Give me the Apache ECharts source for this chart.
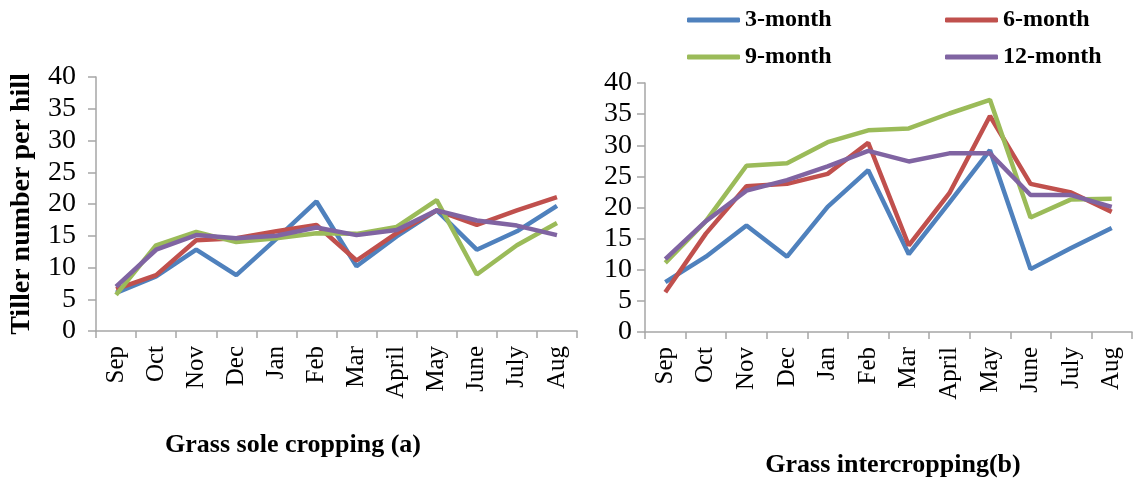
<!DOCTYPE html>
<html>
<head>
<meta charset="utf-8">
<script src="https://cdn.jsdelivr.net/npm/echarts@6/dist/echarts.min.js"></script>
<style>
  html, body { margin: 0; padding: 0; background: #fff; }
  #chart { width: 1136px; height: 482px; }
</style>
</head>
<body>
<div id="chart"></div>
<script>
var months = ['Sep', 'Oct', 'Nov', 'Dec', 'Jan', 'Feb', 'Mar', 'April', 'May', 'June', 'July', 'Aug']
var yTicks = [0, 5, 10, 15, 20, 25, 30, 35, 40]

// (a) grass sole cropping
var sole3 = [6.0, 8.6, 12.8, 8.8, 14.5, 20.4, 10.2, 14.9, 19.0, 12.8, 15.7, 19.7]
var sole6 = [6.6, 8.8, 14.3, 14.6, 15.7, 16.7, 11.1, 15.4, 19.0, 16.7, 19.0, 21.1]
var sole9 = [5.7, 13.5, 15.6, 14.0, 14.6, 15.4, 15.3, 16.4, 20.6, 8.9, 13.5, 17.0]
var sole12 = [7.0, 12.8, 15.1, 14.6, 15.0, 16.3, 15.1, 15.9, 19.0, 17.4, 16.6, 15.1]

// (b) grass intercropping
var inter3 = [8.0, 12.1, 17.1, 12.1, 20.1, 26.0, 12.5, 20.8, 29.2, 10.1, 13.5, 16.7]
var inter6 = [6.4, 15.8, 23.4, 23.8, 25.4, 30.4, 13.9, 22.3, 34.7, 23.8, 22.4, 19.3]
var inter9 = [11.1, 17.8, 26.7, 27.1, 30.5, 32.4, 32.7, 35.1, 37.3, 18.4, 21.3, 21.4]
var inter12 = [11.7, 17.8, 22.7, 24.4, 26.6, 29.1, 27.4, 28.7, 28.7, 22.0, 22.0, 20.1]

var names = ['3-month', '6-month', '9-month', '12-month']
var colors = ['#4F81BD', '#C0504D', '#9BBB59', '#8064A2']

var serif = '"Liberation Serif", "Times New Roman", serif'
var axisGray = '#a6a6a6'

function xAxisFor(idx) {
  return {
    type: 'category',
    gridIndex: idx,
    data: months,
    boundaryGap: true,
    axisLine: { lineStyle: { color: axisGray, width: 1.5 } },
    axisTick: { show: true, length: 7, alignWithLabel: false, lineStyle: { color: axisGray, width: 1.5 } },
    axisLabel: { rotate: 90, margin: 15, color: '#000', fontFamily: serif, fontSize: 25, interval: 0 }
  }
}

function yAxisFor(idx, withName) {
  var ax = {
    type: 'value',
    gridIndex: idx,
    min: 0,
    max: 40,
    interval: 5,
    splitLine: { show: false },
    axisLine: { show: true, lineStyle: { color: axisGray, width: 1.5 } },
    axisTick: { show: true, length: 8, lineStyle: { color: axisGray, width: 1.5 } },
    axisLabel: { color: '#000', fontFamily: serif, fontSize: 28, margin: idx === 0 ? 20 : 13 }
  }
  if (withName) {
    ax.name = 'Tiller number per hill'
    ax.nameLocation = 'middle'
    ax.nameRotate = 90
    ax.nameGap = 60
    ax.nameTextStyle = { color: '#000', fontFamily: serif, fontSize: 28, fontWeight: 'bold' }
  }
  return ax
}

function lineSeries(name, data, color, idx) {
  return {
    name: name,
    type: 'line',
    xAxisIndex: idx,
    yAxisIndex: idx,
    data: data,
    symbol: 'none',
    color: color,
    lineStyle: { width: 4.5, color: color },
    animation: false
  }
}

var soleData = [sole3, sole6, sole9, sole12]
var interData = [inter3, inter6, inter9, inter12]
var series = []
names.forEach(function (n, i) {
  series.push(lineSeries(n, soleData[i], colors[i], 0))
})
names.forEach(function (n, i) {
  series.push(lineSeries(n, interData[i], colors[i], 1))
})

var legendText = { color: '#000', fontFamily: serif, fontSize: 24, fontWeight: 'bold' }

var option = {
  backgroundColor: '#fff',
  animation: false,
  title: [
    {
      text: 'Grass sole cropping (a)',
      left: 293, top: 432, textAlign: 'center', padding: 0,
      textStyle: { color: '#000', fontFamily: serif, fontSize: 26, fontWeight: 'bold' }
    },
    {
      text: 'Grass intercropping(b)',
      left: 893, top: 452, textAlign: 'center', padding: 0,
      textStyle: { color: '#000', fontFamily: serif, fontSize: 26, fontWeight: 'bold' }
    }
  ],
  legend: [
    {
      data: ['3-month', '9-month'],
      orient: 'vertical',
      left: 687, top: 8, padding: 0,
      itemWidth: 53, itemHeight: 5, itemGap: 13,
      icon: 'roundRect',
      textStyle: legendText
    },
    {
      data: ['6-month', '12-month'],
      orient: 'vertical',
      left: 945, top: 8, padding: 0,
      itemWidth: 53, itemHeight: 5, itemGap: 13,
      icon: 'roundRect',
      textStyle: legendText
    }
  ],
  grid: [
    { left: 96, top: 77, width: 481, height: 254 },
    { left: 645, top: 83, width: 487, height: 249 }
  ],
  xAxis: [xAxisFor(0), xAxisFor(1)],
  yAxis: [yAxisFor(0, true), yAxisFor(1, false)],
  series: series
}

var chart = echarts.init(document.getElementById('chart'))
chart.setOption(option)
</script>
</body>
</html>
